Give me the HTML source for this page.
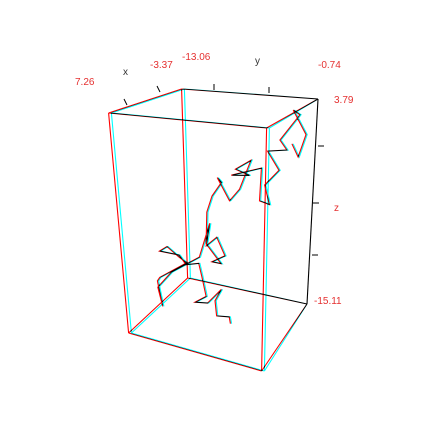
<!DOCTYPE html>
<html><head><meta charset="utf-8"><style>
html,body{margin:0;padding:0;background:#fff;}
svg{display:block;}
text{font-family:"Liberation Sans",sans-serif;font-size:10px;}
</style></head><body>
<svg id="chart" width="442" height="442" viewBox="0 0 442 442">
<g id="red" style="mix-blend-mode:multiply"></g>
<g id="cyan" style="mix-blend-mode:multiply"></g>
<g id="labels"></g>
</svg>
<script>
const xRange = [7.26, -3.37];
const yRange = [-13.06, -0.74];
const zRange = [-15.11, 3.79];
const xVals = [1.94,1.94,1.94,1.94,1.94,1.94,1.94,1.94,1.94,1.94,1.94,1.94,1.94,1.94,1.94,1.94,1.94,1.94,1.94,1.94,1.94,1.94,1.94,1.94,1.94,1.94,1.94,1.94,1.94,1.94,1.94,1.94,1.94,1.94,1.94,1.94,1.94,1.94,1.94,1.94,1.94,1.94,1.94,1.94,1.94,1.94,1.94,1.94,-1.24,-1.24,-1.24,-1.24,-1.24];
const yVals = [-6.04,-6.16,-7.39,-7.52,-6.90,-8.26,-9.49,-8.38,-8.75,-9.01,-10.23,-10.84,-12.69,-11.95,-10.84,-10.16,-12.81,-13.06,-12.94,-12.69,-13.06,-11.64,-8.93,-7.89,-8.26,-7.27,-6.53,-7.76,-6.90,-8.26,-8.13,-7.64,-6.78,-7.15,-6.07,-5.18,-4.19,-5.54,-4.31,-5.91,-3.27,-3.39,-2.50,-2.96,-1.73,-2.77,-1.11,-1.73,-1.36,-1.97,-0.74,-1.36,-1.97];
const zVals = [-15.11,-14.54,-14.73,-13.41,-12.28,-13.79,-13.98,-13.22,-11.52,-10.39,-10.76,-10.01,-10.01,-9.44,-10.20,-10.57,-12.46,-12.84,-13.60,-15.11,-13.41,-11.71,-9.82,-6.61,-8.68,-7.74,-9.25,-10.01,-10.01,-8.50,-5.66,-4.15,-2.82,-2.45,-4.34,-3.20,-0.56,-1.50,-1.88,-2.07,-1.12,-3.96,-4.15,-2.54,-1.12,0.39,0.67,1.45,2.85,3.22,1.14,-0.93,0.20];
const tickLabels = ["7.26","-3.37","-13.06","-0.74","3.79","-15.11"];

const C = {
 '000':[130,333],'100':[189,278],'110':[307,304],'010':[263,371],
 '001':[110,113],'101':[183,89],'111':[318,99],'011':[268,128]
};
function lerp(p,q,t){return [p[0]+(q[0]-p[0])*t,p[1]+(q[1]-p[1])*t];}
function proj(a,b,c){
  const b0=lerp(lerp(C['000'],C['100'],a),lerp(C['010'],C['110'],a),b);
  const b1=lerp(lerp(C['001'],C['101'],a),lerp(C['011'],C['111'],a),b);
  return lerp(b0,b1,c);
}
function P(x,y,z){
  return proj((x-xRange[0])/(xRange[1]-xRange[0]),(y-yRange[0])/(yRange[1]-yRange[0]),(z-zRange[0])/(zRange[1]-zRange[0]));
}
function sepOf(key){const a=+key[0],b=+key[1];return 1.4*(1-a*b);}
const NS='http://www.w3.org/2000/svg';
const edges=[['000','100'],['100','110'],['110','010'],['010','000'],['001','101'],['101','111'],['111','011'],['011','001'],['000','001'],['100','101'],['110','111'],['010','011']];
function draw(layer,color,sgn){
  const g=document.getElementById(layer);
  edges.forEach(e=>{
    const l=document.createElementNS(NS,'line');
    
    
    const p=C[e[0]],q=C[e[1]];
    l.setAttribute('x1',p[0]+sgn*sepOf(e[0]));l.setAttribute('y1',p[1]);
    l.setAttribute('x2',q[0]+sgn*sepOf(e[1]));l.setAttribute('y2',q[1]);
    l.setAttribute('stroke',color);l.setAttribute('stroke-width','1.1');
    g.appendChild(l);
  });
  const dx=sgn*0.6;
  const pts=xVals.map((x,i)=>{const s=P(x,yVals[i],zVals[i]);return (s[0]+dx).toFixed(1)+','+s[1].toFixed(1);}).join(' ');
  const pl=document.createElementNS(NS,'polyline');
  
  
  pl.setAttribute('points',pts);
  pl.setAttribute('fill','none');pl.setAttribute('stroke',color);pl.setAttribute('stroke-width','1.1');
  g.appendChild(pl);
}
draw('red','#ff0000',-1);
draw('cyan','#00ffff',1);

const lg=document.getElementById('labels');
const ticks=[[160,92,157,86],[127,105,124,99],[214,90,214,84],[269,93,269,87],[318,146,324,146],[313,203,319,203],[312,255,318,255]];
ticks.forEach(t=>{
  const l=document.createElementNS(NS,'line');
  
  
  l.setAttribute('x1',t[0]);l.setAttribute('y1',t[1]);l.setAttribute('x2',t[2]);l.setAttribute('y2',t[3]);
  l.setAttribute('stroke','#000');l.setAttribute('stroke-width','1');
  lg.appendChild(l);
});
const labs=[[tickLabels[0],75,85,'#e53030','x-min-label'],[tickLabels[1],150,68,'#e53030','x-max-label'],[tickLabels[2],182,60,'#e53030','y-min-label'],[tickLabels[3],318,68,'#e53030','y-max-label'],[tickLabels[4],334,103,'#e53030','z-max-label'],[tickLabels[5],314,304,'#e53030','z-min-label'],['x',123,75,'#333','x-axis-title'],['y',255,64,'#333','y-axis-title'],['z',334,211,'#e53030','z-axis-title']];
labs.forEach(d=>{
  const t=document.createElementNS(NS,'text');
  
  
  t.setAttribute('x',d[1]);t.setAttribute('y',d[2]);t.setAttribute('fill',d[3]);
  t.textContent=d[0];
  lg.appendChild(t);
});
</script>
</body></html>
